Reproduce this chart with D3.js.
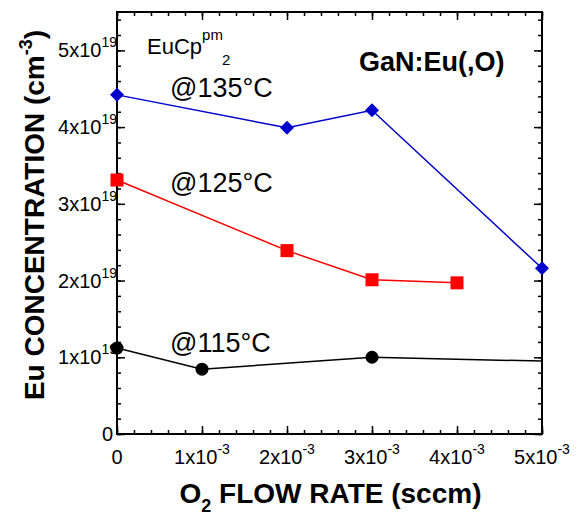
<!DOCTYPE html>
<html>
  <head>
    <meta charset="utf-8">
    <title>Eu concentration vs O2 flow</title>
    <script src="https://cdn.jsdelivr.net/npm/d3@7/dist/d3.min.js"></script>
    <style>
      body { margin: 0; background: #fff; }
      text { font-family: "Liberation Sans", Arial, sans-serif; fill: #000; }
    </style>
  </head>
  <body>
    <svg width="577" height="516"></svg>
    <script>
    // data (x in sccm, y in 1e19 cm^-3)
    var xTicks = [0, 1e-3, 2e-3, 3e-3, 4e-3, 5e-3];
    var xTickLabels = ["0", "1x10", "2x10", "3x10", "4x10", "5x10"];
    var yTicks = [0, 1, 2, 3, 4, 5];
    var yTickLabels = ["0", "1x10", "2x10", "3x10", "4x10", "5x10"];

    var x135 = [0, 2e-3, 3e-3, 5e-3];
    var y135 = [4.42, 3.99, 4.22, 2.16];
    var x125 = [0, 2e-3, 3e-3, 4e-3];
    var y125 = [3.31, 2.39, 2.01, 1.97];
    var x115 = [0, 1e-3, 3e-3, 5e-3];
    var y115 = [1.12, 0.845, 1.0, 0.95];
    var marked115 = [true, true, true, false];

    var marge = {top: 12, right: 35, bottom: 82, left: 117};
    var svg = d3.select("svg");
    var width = +svg.attr("width") - marge.left - marge.right;
    var height = +svg.attr("height") - marge.top - marge.bottom;
    var g = svg.append("g")
      .attr("transform", "translate(" + marge.left + "," + marge.top + ")");

    var x = d3.scaleLinear().domain([0, 5e-3]).range([0, width]);
    var y = d3.scaleLinear().domain([0, 5.5]).range([height, 0]);

    var xMinor = d3.range(0, 26).map(function(i){ return i * 0.2e-3; });
    var yMinor = d3.range(0, 28).map(function(i){ return i * 0.2; });

    // inward ticks on all four sides
    function tickAxis(axisFn, scale, vals, size, tr) {
      var a = g.append("g")
        .attr("transform", tr)
        .call(axisFn(scale).tickValues(vals).tickSize(size).tickFormat(""));
      a.select(".domain").remove();
      a.selectAll("line").attr("stroke", "#000").attr("stroke-width", 1.5);
    }
    tickAxis(d3.axisBottom, x, xMinor, -4, "translate(0," + height + ")");
    tickAxis(d3.axisBottom, x, xTicks, -8, "translate(0," + height + ")");
    tickAxis(d3.axisTop, x, xMinor, -4, "translate(0,0)");
    tickAxis(d3.axisTop, x, xTicks, -8, "translate(0,0)");
    tickAxis(d3.axisLeft, y, yMinor, -4, "translate(0,0)");
    tickAxis(d3.axisLeft, y, yTicks, -8, "translate(0,0)");
    tickAxis(d3.axisRight, y, yMinor, -4, "translate(" + width + ",0)");
    tickAxis(d3.axisRight, y, yTicks, -8, "translate(" + width + ",0)");

    g.append("rect")
      .attr("width", width).attr("height", height)
      .attr("fill", "none").attr("stroke", "#000").attr("stroke-width", 2);

    // tick labels
    var xl = g.selectAll(".xl").data(xTicks).enter().append("text")
      .attr("x", function(d){ return x(d); })
      .attr("y", height + 30)
      .attr("text-anchor", "middle")
      .attr("font-size", 20);
    xl.append("tspan").text(function(d, i){ return xTickLabels[i]; });
    xl.filter(function(d){ return d > 0; }).append("tspan")
      .attr("dy", -10).attr("font-size", 14).text("-3");

    var yl = g.selectAll(".yl").data(yTicks).enter().append("text")
      .attr("x", function(d){ return d > 0 ? 0 : -4; })
      .attr("y", function(d){ return y(d) + 7; })
      .attr("text-anchor", "end")
      .attr("font-size", 20);
    yl.append("tspan").text(function(d, i){ return yTickLabels[i]; });
    yl.filter(function(d){ return d > 0; }).append("tspan")
      .attr("dy", -10).attr("font-size", 14).text("19");

    // series
    var line = d3.line()
      .x(function(d){ return x(d[0]); })
      .y(function(d){ return y(d[1]); });

    function series(xs, ys, color) {
      var pts = xs.map(function(v, i){ return [v, ys[i]]; });
      g.append("path").datum(pts)
        .attr("d", line).attr("fill", "none")
        .attr("stroke", color).attr("stroke-width", 1.5);
      return pts;
    }

    var p115 = series(x115, y115, "#000");
    var p125 = series(x125, y125, "#ff0000");
    var p135 = series(x135, y135, "#0000cc");

    g.selectAll(".c").data(p115.filter(function(d, i){ return marked115[i]; }))
      .enter().append("circle")
      .attr("cx", function(d){ return x(d[0]); })
      .attr("cy", function(d){ return y(d[1]); })
      .attr("r", 6.5).attr("fill", "#000");

    g.selectAll(".s").data(p125).enter().append("rect")
      .attr("x", function(d){ return x(d[0]) - 6.5; })
      .attr("y", function(d){ return y(d[1]) - 6.5; })
      .attr("width", 13).attr("height", 13).attr("fill", "#ff0000");

    var diamond = d3.symbol().type(d3.symbolSquare).size(98);
    g.selectAll(".dm").data(p135).enter().append("path")
      .attr("d", diamond)
      .attr("transform", function(d){
        return "translate(" + x(d[0]) + "," + y(d[1]) + ") rotate(45)";
      })
      .attr("fill", "#0000cc");

    // annotations
    var note = svg.append("text").attr("x", 147).attr("y", 54).attr("font-size", 22);
    note.append("tspan").text("EuCp");
    note.append("tspan").attr("dy", -14).attr("font-size", 15).text("pm");
    note.append("tspan").attr("dy", 25).attr("dx", -1).attr("font-size", 15).text("2");

    svg.append("text").attr("x", 359).attr("y", 71)
      .attr("font-size", 27).attr("font-weight", "bold").text("GaN:Eu(,O)");

    svg.append("text").attr("x", 170).attr("y", 97).attr("font-size", 27).text("@135°C");
    svg.append("text").attr("x", 170).attr("y", 192).attr("font-size", 27).text("@125°C");
    svg.append("text").attr("x", 170).attr("y", 352).attr("font-size", 27).text("@115°C");

    // axis titles
    var xt = svg.append("text")
      .attr("x", marge.left + width / 2 + 1).attr("y", 503)
      .attr("text-anchor", "middle")
      .attr("font-size", 28).attr("font-weight", "bold");
    xt.append("tspan").text("O");
    xt.append("tspan").attr("dy", 9).attr("font-size", 18).text("2");
    xt.append("tspan").attr("dy", -9).text(" FLOW RATE (sccm)");

    var yt = svg.append("text")
      .attr("transform", "translate(44," + 215 + ") rotate(-90)")
      .attr("text-anchor", "middle")
      .attr("font-size", 28).attr("font-weight", "bold");
    yt.append("tspan").text("Eu CONCENTRATION (cm");
    yt.append("tspan").attr("dy", -12).attr("font-size", 18).text("-3");
    yt.append("tspan").attr("dy", 12).text(")");
    </script>
  </body>
</html>
